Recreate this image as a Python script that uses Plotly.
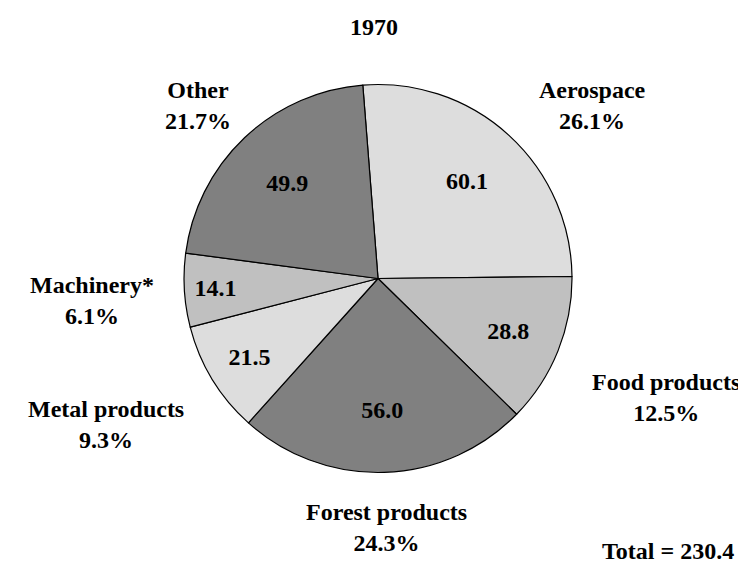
import plotly.graph_objects as go

# Data
categories = ["Aerospace", "Food products", "Forest products", "Metal products", "Machinery*", "Other"]
values = [60.1, 28.8, 56.0, 21.5, 14.1, 49.9]
percent_labels = ["26.1%", "12.5%", "24.3%", "9.3%", "6.1%", "21.7%"]
title_text = "1970"
total_text = "Total = 230.4"

# Styles / positions (paper coords for outside labels)
colors = ["#dddddd", "#c0c0c0", "#808080", "#dddddd", "#c0c0c0", "#808080"]
label_pos = [(0.784, 0.827), (0.882, 0.310), (0.508, 0.080), (0.131, 0.262), (0.112, 0.483), (0.255, 0.827)]
FONT = "Liberation Serif, Times New Roman, Times, serif"
FS = 24
DOMAIN = dict(x=[0.2359, 0.7561], y=[0.1779, 0.8646])

fig = go.Figure()
# Filled pie slices
fig.add_trace(go.Pie(
    labels=categories,
    values=values,
    sort=False,
    direction="clockwise",
    rotation=-4.5,
    marker=dict(colors=colors, line=dict(color="black", width=1.2)),
    textinfo="none",
    domain=DOMAIN,
    showlegend=False,
    hoverinfo="label+value+percent",
))
# Transparent ring overlay carrying the value labels (places text further out)
fig.add_trace(go.Pie(
    labels=categories,
    values=values,
    sort=False,
    direction="clockwise",
    rotation=-4.5,
    hole=0.36,
    marker=dict(colors=["rgba(0,0,0,0)"] * len(values), line=dict(width=0)),
    texttemplate="<b>%{value:.1f}</b>",
    textposition="inside",
    insidetextorientation="horizontal",
    textfont=dict(family=FONT, size=FS, color="black"),
    domain=DOMAIN,
    showlegend=False,
    hoverinfo="skip",
))

for cat, pct, (x, y) in zip(categories, percent_labels, label_pos):
    fig.add_annotation(
        x=x, y=y, xref="paper", yref="paper",
        text=f"<b>{cat}<br>{pct}</b>",
        showarrow=False, align="center",
        font=dict(family=FONT, size=FS, color="black"),
        xanchor="center", yanchor="middle",
    )

fig.add_annotation(
    x=0.976, y=0.012, xref="paper", yref="paper",
    text=f"<b>{total_text}</b>", showarrow=False,
    font=dict(family=FONT, size=FS, color="black"),
    xanchor="right", yanchor="bottom",
)

fig.add_annotation(
    x=0.491, y=0.966, xref="paper", yref="paper",
    text=f"<b>{title_text}</b>", showarrow=False,
    font=dict(family=FONT, size=FS, color="black"),
    xanchor="center", yanchor="middle",
)

fig.update_layout(
    width=746, height=565,
    margin=dict(l=0, r=0, t=0, b=0),
    paper_bgcolor="white", plot_bgcolor="white",
    uniformtext=dict(minsize=FS, mode="show"),
)

fig.write_html("out.html")
